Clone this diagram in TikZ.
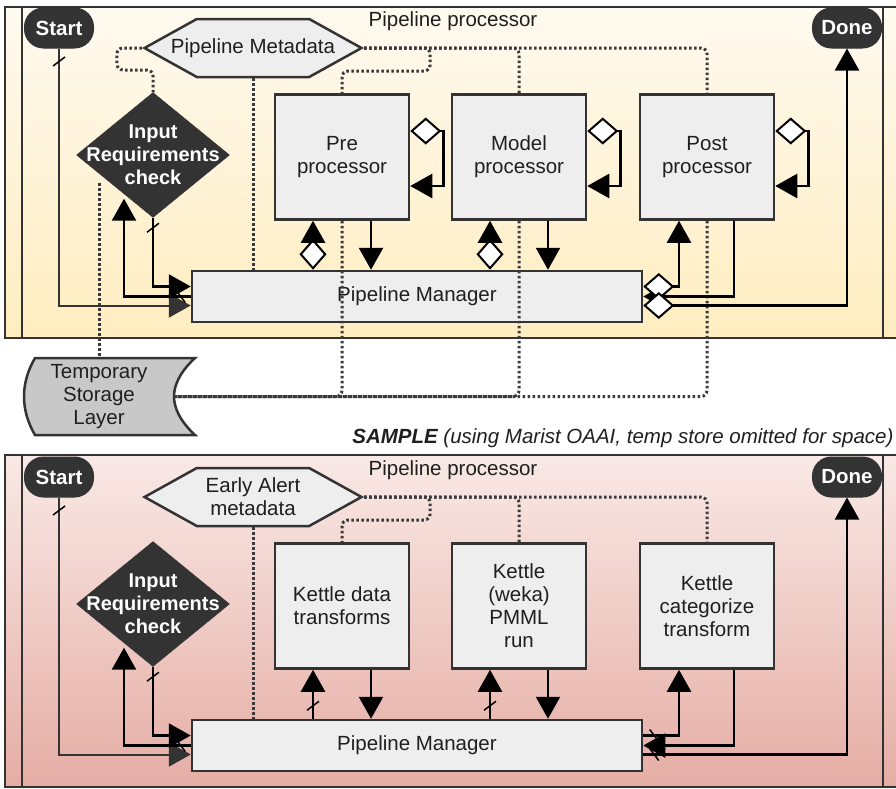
\documentclass[tikz,border=0pt]{standalone}
\usepackage{fontspec}
\setmainfont{Liberation Sans}
\usetikzlibrary{arrows.meta,shapes.geometric,shapes.symbols,decorations.markings}

\definecolor{edge}{HTML}{333333}
\definecolor{boxgray}{HTML}{EEEEEE}
\definecolor{storegray}{HTML}{C8C8C8}
\definecolor{dotgray}{HTML}{3A3A3A}
\definecolor{creamtop}{HTML}{FFFAF0}
\definecolor{creambot}{HTML}{FFEDC0}
\definecolor{rosetop}{HTML}{F9E9E6}
\definecolor{rosebot}{HTML}{E5ADA4}

\tikzset{
  every node/.style={font=\fontsize{20.5pt}{23pt}\selectfont, text=black!88, align=center},
  pool/.style={draw=edge, line width=2pt},
  procbox/.style={draw=edge, fill=boxgray, line width=2.5pt, minimum width=134pt, minimum height=125pt, inner sep=0pt},
  mgrbox/.style={procbox, minimum width=450pt, minimum height=51pt},
  pill/.style={draw=edge, fill=edge, line width=1pt, rounded corners=19pt, minimum width=69pt, minimum height=40pt, text=white, font=\fontsize{20.5pt}{23pt}\selectfont\bfseries},
  hexbox/.style={shape=signal, signal to=east and west, signal pointer angle=58, draw=edge, fill=boxgray, line width=2.5pt, minimum width=217pt, minimum height=58pt, inner sep=0pt},
  checkbox/.style={shape=diamond, draw=edge, fill=edge, minimum width=153pt, minimum height=125pt, inner sep=0pt},
  checktext/.style={text=white, font=\fontsize{20pt}{23pt}\selectfont\bfseries},
  storeshape/.style={draw=edge, fill=storegray, line width=2.5pt},
  flow/.style={draw=black, line width=2.5pt, -{Triangle[length=22pt,width=24pt]}},
  startflow/.style={draw=edge, line width=2pt, -{Triangle[length=22pt,width=24pt]}},
  dtail/.style={{Diamond[fill=white,length=31pt,width=27pt,line width=2pt]}-{Triangle[length=22pt,width=24pt]}},
  slashat/.style={postaction={decorate,decoration={markings,mark=at position #1 with {\draw[draw=black,line width=1.5pt,solid,-] (4.5pt,-6pt) -- (-4.5pt,6pt);}}}},
  dots/.style={draw=dotgray, line width=3pt, dash pattern=on 2.5pt off 2.5pt, rounded corners=6pt}
}

\begin{document}
\begin{tikzpicture}[x=1pt,y=-1pt]
\useasboundingbox (0,0) rectangle (896,788);

% upper pool
\path[top color=creamtop, bottom color=creambot] (5,7) rectangle (899,338);
\draw[pool] (5,7) rectangle (899,338);
\draw[pool] (22,7) -- (22,338);
\draw[pool] (883,7) -- (883,338);

\node (title) at (453,21) {Pipeline processor};
\node[pill] (start) at (59,28) {Start};
\node[pill] (done) at (847,28) {Done};
\node[hexbox] (meta) at (253,48) {};
\node (metatext) at (meta) {Pipeline Metadata};
\node[checkbox] (irc) at (153,155) {};
\node[checktext] (irctext) at (irc) {Input\\Requirements\\check};
\node[procbox] (pre) at (342,157) {Pre\\processor};
\node[procbox] (model) at (519,157) {Model\\processor};
\node[procbox] (post) at (707,157) {Post\\processor};
\node[mgrbox] (pm) at (417,296.5) {Pipeline Manager};

\draw[storeshape] (35,358) -- (195,358) .. controls (180,372) and (174,385) .. (174,396.5)
  .. controls (174,408) and (180,421) .. (195,435) -- (35,435)
  .. controls (28,423) and (24,410) .. (24,396.5) .. controls (24,383) and (28,370) .. (35,358) -- cycle;
\node[minimum width=150pt, minimum height=77pt, inner sep=0pt] (store) at (99,396.5) {Temporary\\Storage\\Layer};

\draw[dots] (meta.west) -| ([xshift=-25pt,yshift=-22pt]meta.west) -| (irc.north);
\draw[dots] (meta.south) -- (meta.south |- pm.north);
\draw[dots] (meta.east) -| ([xshift=66pt,yshift=-23pt]meta.east) -| (pre.north);
\draw[dots] (meta.east) -| (model.north);
\draw[dots] (meta.east) -| (post.north);
\draw[dots] ([xshift=-54pt,yshift=-28pt]irc.center) -- (store.north);
\draw[dots] (pre.south) |- (store.east);
\draw[dots] (model.south) |- (store.east);
\draw[dots] (post.south) |- (store.east);

\draw[startflow, slashat=13pt] (start.south) |- ([yshift=-9pt]pm.west);
\draw[flow, slashat=10pt] (irc.south) |- ([yshift=10pt]pm.west);
\draw[flow, slashat=10pt] (pm.west) -| ([xshift=-29pt,yshift=19pt]irc.south);
\draw[flow, dtail] ([xshift=-29pt]pre.south |- pm.north) -- ([xshift=-29pt]pre.south);
\draw[flow] ([xshift=29pt]pre.south) -- ([xshift=29pt]pre.south |- pm.north);
\draw[flow, dtail] ([yshift=26pt]pre.east) -- ++(33,0) |- ([yshift=-29pt]pre.east);
\draw[flow, dtail] ([xshift=-29pt]model.south |- pm.north) -- ([xshift=-29pt]model.south);
\draw[flow] ([xshift=29pt]model.south) -- ([xshift=29pt]model.south |- pm.north);
\draw[flow, dtail] ([yshift=26pt]model.east) -- ++(33,0) |- ([yshift=-29pt]model.east);
\draw[flow, dtail] ([yshift=26pt]post.east) -- ++(33,0) |- ([yshift=-29pt]post.east);
\draw[flow] ([xshift=27pt]post.south) |- (pm.east);
\draw[flow, dtail] ([yshift=10pt]pm.east) -| ([xshift=-28pt]post.south);
\draw[flow, dtail] ([yshift=-9pt]pm.east) -| (done.south);

\node[anchor=east, font=\fontsize{20.5pt}{23pt}\selectfont\itshape] (sample) at (897,438)
  {\textbf{SAMPLE} (using Marist OAAI, temp store omitted for space)};

% lower pool
\path[top color=rosetop, bottom color=rosebot] (5,455) rectangle (899,787);
\draw[pool] (5,455) rectangle (899,787);
\draw[pool] (22,455) -- (22,787);
\draw[pool] (883,455) -- (883,787);

\node (title2) at (453,470) {Pipeline processor};
\node[pill] (start2) at (59,477) {Start};
\node[pill] (done2) at (847,477) {Done};
\node[hexbox] (meta2) at (253,497) {};
\node (metatext2) at (meta2) {Early Alert\\metadata};
\node[checkbox] (irc2) at (153,604) {};
\node[checktext] (irctext2) at (irc2) {Input\\Requirements\\check};
\node[procbox] (pre2) at (342,606) {Kettle data\\transforms};
\node[procbox] (model2) at (519,606) {Kettle\\(weka)\\PMML\\run};
\node[procbox] (post2) at (707,606) {Kettle\\categorize\\transform};
\node[mgrbox] (pm2) at (417,745.5) {Pipeline Manager};

\draw[dots] (meta2.south) -- (meta2.south |- pm2.north);
\draw[dots] (meta2.east) -| ([xshift=66pt,yshift=-23pt]meta2.east) -| (pre2.north);
\draw[dots] (meta2.east) -| (model2.north);
\draw[dots] (meta2.east) -| (post2.north);

\draw[startflow, slashat=13pt] (start2.south) |- ([yshift=-9pt]pm2.west);
\draw[flow, slashat=10pt] (irc2.south) |- ([yshift=10pt]pm2.west);
\draw[flow, slashat=10pt] (pm2.west) -| ([xshift=-29pt,yshift=19pt]irc2.south);
\draw[flow, slashat=13pt] ([xshift=-29pt]pre2.south |- pm2.north) -- ([xshift=-29pt]pre2.south);
\draw[flow] ([xshift=29pt]pre2.south) -- ([xshift=29pt]pre2.south |- pm2.north);
\draw[flow, slashat=13pt] ([xshift=-29pt]model2.south |- pm2.north) -- ([xshift=-29pt]model2.south);
\draw[flow] ([xshift=29pt]model2.south) -- ([xshift=29pt]model2.south |- pm2.north);
\draw[flow] ([xshift=27pt]post2.south) |- (pm2.east);
\draw[flow, slashat=11pt] ([yshift=10pt]pm2.east) -| ([xshift=-28pt]post2.south);
\draw[flow, slashat=11pt] ([yshift=-9pt]pm2.east) -| (done2.south);
\end{tikzpicture}
\end{document}
